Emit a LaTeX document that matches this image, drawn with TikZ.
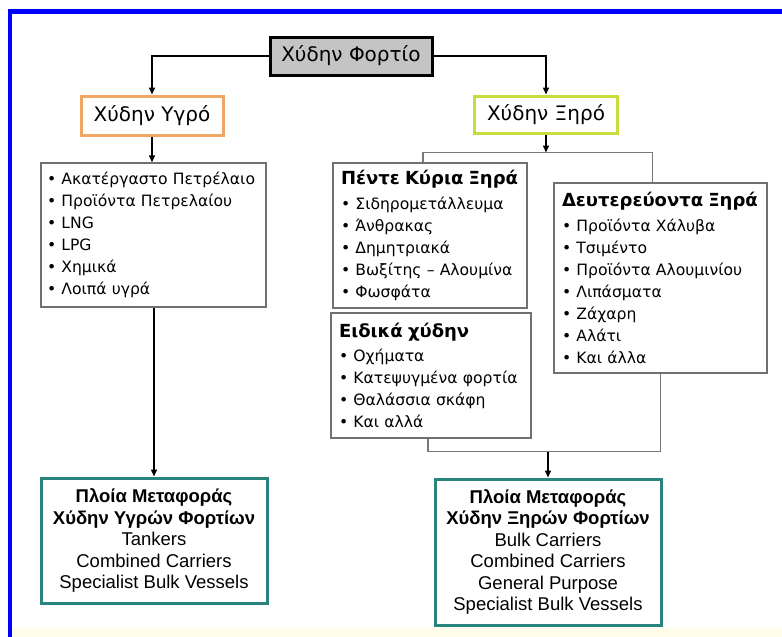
\documentclass[tikz,border=0pt]{standalone}
\usepackage{fontspec}
\setmainfont{DejaVu Sans}
\newfontfamily\shipfont{Liberation Sans}
\usetikzlibrary{arrows.meta}

\definecolor{frameblue}{RGB}{0,0,255}
\definecolor{boxgrey}{RGB}{196,196,196}
\definecolor{wetorange}{RGB}{240,168,96}
\definecolor{drygreen}{RGB}{200,220,60}
\definecolor{shipteal}{RGB}{40,132,124}
\definecolor{listgrey}{RGB}{112,112,112}
\definecolor{linegrey}{RGB}{120,120,120}
\definecolor{cream}{RGB}{255,252,234}

\newcommand{\listhead}[1]{{\bfseries\fontsize{18}{22}\selectfont #1}}

\begin{document}
\begin{tikzpicture}[x=1pt,y=-1pt,
  headbox/.style={rectangle, line width=3pt, inner sep=0pt, fill=white,
    font=\fontsize{20}{22}\selectfont},
  listbox/.style={rectangle, draw=listgrey, line width=1.5pt, fill=white,
    inner xsep=8pt, inner ysep=0pt, align=left,
    font=\fontsize{15.6}{22}\selectfont},
  shipbox/.style={rectangle, draw=shipteal, line width=3pt, fill=white,
    inner sep=0pt, align=center,
    font=\shipfont\fontsize{18.5}{21.5}\selectfont},
  arr/.style={line width=1.5pt, -{Triangle[length=7pt,width=6pt]}},
  gline/.style={draw=linegrey, line width=1.5pt},
]
\useasboundingbox (0,0) rectangle (782,637);

% page frame and bottom strip
\fill[cream] (12,628) rectangle (782,637);
\draw[frameblue, line width=4.5pt] (10,637) -- (10,11.3) -- (782,11.3);

% top level
\node[headbox, draw=black, fill=boxgrey, minimum width=162pt, minimum height=38pt]
  (main) at (351,56) {Χύδην Φορτίο};
\node[headbox, draw=wetorange, minimum width=142pt, minimum height=39pt]
  (wet) at (152,115.5) {Χύδην Υγρό};
\node[headbox, draw=drygreen, minimum width=143pt, minimum height=37pt]
  (dry) at (546,114.5) {Χύδην Ξηρό};

% cargo lists
\node[listbox, inner xsep=6pt, text width=213pt, minimum height=144pt]
  (wetlist) at (153.5,235) {• Ακατέργαστο Πετρέλαιο\\• Προϊόντα Πετρελαίου\\• LNG\\• LPG\\• Χημικά\\• Λοιπά υγρά};
\node[listbox, text width=178pt, minimum height=145pt]
  (five) at (430,235.5) {\listhead{Πέντε Κύρια Ξηρά}\\[3pt]• Σιδηρομετάλλευμα\\• Άνθρακας\\• Δημητριακά\\• Βωξίτης – Αλουμίνα\\• Φωσφάτα};
\node[listbox, text width=184pt, minimum height=125pt]
  (special) at (431,375.5) {\listhead{Ειδικά χύδην}\\[2pt]• Οχήματα\\• Κατεψυγμένα φορτία\\• Θαλάσσια σκάφη\\• Και αλλά};
\node[listbox, text width=197pt, minimum height=190pt]
  (second) at (660.5,278) {\listhead{Δευτερεύοντα Ξηρά}\\[3pt]• Προϊόντα Χάλυβα\\• Τσιμέντο\\• Προϊόντα Αλουμινίου\\• Λιπάσματα\\• Ζάχαρη\\• Αλάτι\\• Και άλλα};

% ship types
\node[shipbox, minimum width=226pt, minimum height=125pt]
  (wetships) at (154,540.5) {\bfseries Πλοία Μεταφοράς\\\bfseries Χύδην Υγρών Φορτίων\\Tankers\\Combined Carriers\\Specialist Bulk Vessels};
\node[shipbox, minimum width=226pt, minimum height=146pt]
  (dryships) at (548,552) {\bfseries Πλοία Μεταφοράς\\\bfseries Χύδην Ξηρών Φορτίων\\Bulk Carriers\\Combined Carriers\\General Purpose\\Specialist Bulk Vessels};

% connectors
\draw[arr] (main.west) -| (wet.north);
\draw[arr] (main.east) -| (dry.north);
\draw[arr] (wet.south) -- (wet.south |- wetlist.north);
\draw[arr] (wetships.north |- wetlist.south) -- (wetships.north);

\path (dry.south) ++(0,18) coordinate (dsplit);
\draw[gline] ([xshift=-7pt]five.north) |- (dsplit) -| ([xshift=-8pt]second.north);
\draw[arr] (dry.south) -- (dsplit);

\path (dryships.north) ++(0,-26) coordinate (djoin);
\draw[gline] ([xshift=-3pt]special.south) |- (djoin) -| (second.south);
\draw[arr] (djoin) -- (dryships.north);
\end{tikzpicture}
\end{document}
